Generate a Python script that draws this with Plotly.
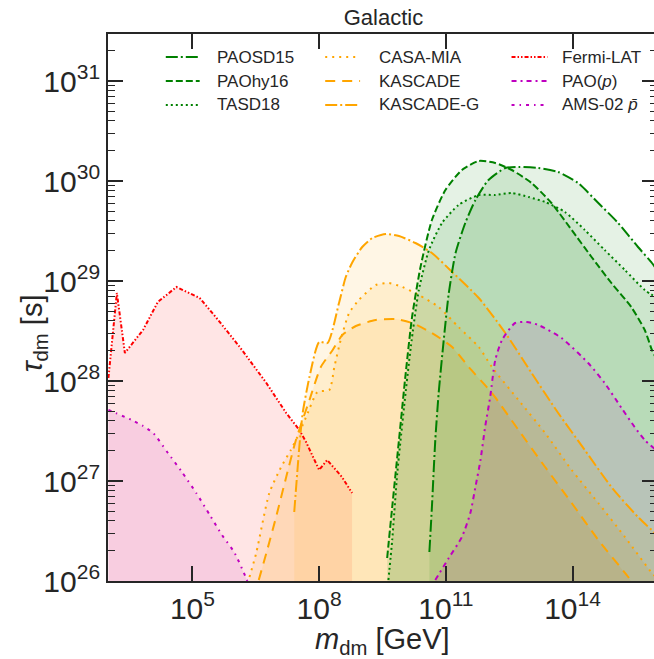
import numpy as np
import plotly.graph_objects as go

# ---- exclusion boundaries: log10(m_dm / GeV) and log10(tau_dm / s) ----
paosd15_lm = [10.61, 10.67, 10.75, 10.83, 10.95, 11.07, 11.23, 11.46, 11.70, 12.01,
              12.41, 12.72, 13.19, 13.66, 14.13, 14.61, 15.08, 15.55, 15.88, 16.0]
paosd15_lt = [26.29, 26.74, 27.41, 27.88, 28.41, 28.88, 29.28, 29.58, 29.81, 30.01,
              30.13, 30.14, 30.13, 30.09, 29.98, 29.78, 29.58, 29.34, 29.18, 29.11]

paohy16_lm = [9.61, 9.73, 9.89, 10.05, 10.20, 10.40, 10.67, 10.99, 11.38, 11.78,
              12.17, 12.56, 13.03, 13.50, 13.98, 14.45, 14.92, 15.39, 15.71, 15.88, 16.0]
paohy16_lt = [26.23, 26.74, 27.41, 28.08, 28.64, 29.14, 29.61, 29.91, 30.11, 30.20,
              30.18, 30.11, 29.98, 29.78, 29.51, 29.24, 28.98, 28.74, 28.51, 28.31, 28.21]

tasd18_lm = [9.64, 9.73, 9.85, 10.01, 10.17, 10.36, 10.60, 10.91, 11.30, 11.78,
             12.17, 12.56, 12.96, 13.35, 13.82, 14.29, 14.76, 15.24, 15.71, 16.0]
tasd18_lt = [26.01, 26.41, 27.08, 27.74, 28.34, 28.91, 29.31, 29.58, 29.76, 29.86,
             29.86, 29.88, 29.84, 29.79, 29.69, 29.51, 29.31, 29.11, 28.91, 28.83]

casamia_lm = [6.35, 6.51, 6.82, 7.10, 7.33, 7.53, 7.73, 7.96, 8.24, 8.36, 8.51, 8.71,
              8.94, 9.34, 9.65, 9.97, 10.36, 10.83, 11.30, 11.78, 12.09, 12.72, 13.35,
              13.98, 14.61, 15.24, 15.88, 16.0]
casamia_lt = [26.04, 26.28, 26.88, 27.14, 27.31, 27.48, 27.68, 27.89, 27.91, 28.14, 28.41, 28.68,
              28.81, 28.96, 28.98, 28.94, 28.86, 28.74, 28.54, 28.34, 28.14, 27.81, 27.48,
              27.11, 26.78, 26.44, 26.08, 26.03]

kascade_lm = [6.57, 6.75, 6.98, 7.22, 7.45, 7.77, 8.04, 8.32, 8.55, 8.87, 9.34, 9.81,
              10.20, 10.67, 11.15, 11.54, 12.09, 12.72, 13.35, 13.98, 14.61, 15.32, 15.38]
kascade_lt = [26.01, 26.28, 26.64, 27.04, 27.41, 27.81, 28.14, 28.31, 28.46, 28.55, 28.61, 28.62,
              28.58, 28.48, 28.34, 28.14, 27.88, 27.51, 27.14, 26.78, 26.41, 26.04, 26.0]

kascadeg_lm = [7.41, 7.53, 7.61, 7.77, 8.00, 8.20, 8.47, 8.63, 8.79, 9.02, 9.26, 9.58,
               9.89, 10.28, 10.67, 11.15, 11.78, 12.41, 13.03, 13.66, 14.29, 14.92, 15.55, 16.0]
kascadeg_lt = [26.69, 27.34, 27.68, 28.04, 28.39, 28.38, 28.78, 29.04, 29.19, 29.34, 29.43, 29.47,
               29.45, 29.38, 29.28, 29.09, 28.83, 28.48, 28.08, 27.68, 27.31, 26.94, 26.64, 26.46]

fermi_lm = [3.01, 3.21, 3.40, 3.83, 4.18, 4.62, 5.17, 5.57, 6.12, 6.43, 6.75, 7.22, 7.53,
            7.69, 7.85, 8.00, 8.19, 8.54, 8.78]
fermi_lt = [28.03, 28.88, 28.28, 28.51, 28.79, 28.94, 28.83, 28.63, 28.34, 28.16, 27.98, 27.68, 27.51,
            27.39, 27.24, 27.11, 27.21, 27.04, 26.88]

paop_lm = [10.75, 11.07, 11.38, 11.58, 11.70, 11.82, 11.93, 12.05, 12.17, 12.33, 12.64,
           12.92, 13.19, 13.74, 14.37, 14.76, 15.16, 15.47, 15.71, 16.0]
paop_lt = [26.01, 26.23, 26.44, 26.68, 26.94, 27.21, 27.54, 27.84, 28.21, 28.41, 28.58,
           28.59, 28.56, 28.43, 28.18, 27.98, 27.73, 27.54, 27.41, 27.30]

ams02_lm = [3.01, 3.56, 3.83, 4.07, 4.42, 4.75, 5.09, 5.41, 5.70, 6.00, 6.27, 6.30]
ams02_lt = [27.71, 27.61, 27.55, 27.48, 27.28, 27.09, 26.88, 26.66, 26.46, 26.28, 26.03, 26.0]

x_tick_exp = [5, 8, 11, 14]
y_tick_exp = [26, 27, 28, 29, 30, 31]

GREEN = "#008000"
ORANGE = "#FFA500"
RED = "#FF0000"
MAGENTA = "#BF00BF"

DASHDOT = "12px,3px,2px,3px"
DASHED = "7px,3px"
DOTTED = "2px,3px"

series = [
    # name, log m, log tau, colour, dash, smooth curve?
    ("Fermi-LAT", fermi_lm, fermi_lt, RED, "4px,2px,1.5px,2px,1.5px,2px", False),
    ("AMS-02 <i>p\u0304</i>", ams02_lm, ams02_lt, MAGENTA, "3px,5px,1.5px,5px", True),
    ("CASA-MIA", casamia_lm, casamia_lt, ORANGE, "2px,5px", True),
    ("KASCADE", kascade_lm, kascade_lt, ORANGE, "10px,7px", True),
    ("KASCADE-G", kascadeg_lm, kascadeg_lt, ORANGE, DASHDOT, True),
    ("PAOSD15", paosd15_lm, paosd15_lt, GREEN, DASHDOT, True),
    ("PAOhy16", paohy16_lm, paohy16_lt, GREEN, DASHED, True),
    ("TASD18", tasd18_lm, tasd18_lt, GREEN, DOTTED, True),
    ("PAO(<i>p</i>)", paop_lm, paop_lt, MAGENTA, "5px,4px,2px,4px", True),
]


def rgba(hex_colour, alpha):
    h = hex_colour.lstrip("#")
    r, g, b = (int(h[i:i + 2], 16) for i in (0, 2, 4))
    return f"rgba({r},{g},{b},{alpha})"


fig = go.Figure()

# shaded excluded regions first, boundaries on top
for name, lm, lt, col, dash, smooth in series:
    m = np.power(10.0, lm)
    t = np.power(10.0, lt)
    fig.add_trace(go.Scatter(
        x=m, y=t, mode="lines", fill="tozeroy",
        fillcolor=rgba(col, 0.1),
        line=dict(width=0, color=col, shape="spline" if smooth else "linear", smoothing=0.6),
        showlegend=False, hoverinfo="skip"))

for name, lm, lt, col, dash, smooth in series:
    m = np.power(10.0, lm)
    t = np.power(10.0, lt)
    fig.add_trace(go.Scatter(
        x=m, y=t, mode="lines", name=name,
        line=dict(width=2, color=col, dash=dash,
                  shape="spline" if smooth else "linear", smoothing=0.6),
        showlegend=False))

# ---- legend drawn as three columns of handles and labels ----
PW, PH, L, T = 551, 547, 108, 34
legend_layout = [
    ["PAOSD15", "PAOhy16", "TASD18"],
    ["CASA-MIA", "KASCADE", "KASCADE-G"],
    ["Fermi-LAT", "PAO(<i>p</i>)", "AMS-02 <i>p\u0304</i>"],
]
style = {s[0]: (s[3], s[4]) for s in series}
col_x = [(166, 200, 215), (326, 361, 378), (513, 549, 562)]
row_y = [57, 81, 105]

shapes = []
annotations = []
for ci, names in enumerate(legend_layout):
    x0, x1, xt = col_x[ci]
    for ri, nm in enumerate(names):
        col, dash = style[nm]
        yp = (T + PH - row_y[ri]) / PH
        shapes.append(dict(type="line", xref="paper", yref="paper",
                           x0=(x0 - L) / PW, x1=(x1 - L) / PW, y0=yp, y1=yp,
                           line=dict(color=col, width=2, dash=dash)))
        annotations.append(dict(text=nm, xref="paper", yref="paper",
                                x=(xt - L) / PW, y=yp, xanchor="left", yanchor="middle",
                                showarrow=False,
                                font=dict(size=17, color="#262626")))

# axis titles
annotations.append(dict(text="<i>m</i><sub>dm</sub> [GeV]", xref="paper", yref="paper",
                        x=0.5, y=(T + PH - 641) / PH, xanchor="center", yanchor="middle",
                        showarrow=False, font=dict(size=29, color="#262626")))
annotations.append(dict(text="<i>τ</i><sub>dm</sub> [s]", xref="paper", yref="paper",
                        x=(34 - L) / PW, y=(T + PH - 333) / PH, xanchor="center",
                        yanchor="middle", textangle=-90, showarrow=False,
                        font=dict(size=29, color="#262626")))

axis_common = dict(
    type="log", showgrid=False, zeroline=False,
    showline=True, linecolor="#262626", linewidth=1.8, mirror="ticks",
    ticks="inside", ticklen=15, tickwidth=1.5, tickcolor="#262626",
    tickfont=dict(size=30, color="#262626", family="Liberation Sans, Arial, sans-serif"),
)

fig.update_xaxes(
    **axis_common, range=[3, 16],
    tickmode="array",
    tickvals=[10.0 ** e for e in x_tick_exp],
    ticktext=[f"10<sup>{e}</sup>" for e in x_tick_exp],
)
fig.update_yaxes(
    **axis_common, range=[26, 31.47],
    tickmode="array",
    tickvals=[10.0 ** e for e in y_tick_exp],
    ticktext=[f"10<sup>{e}</sup>" for e in y_tick_exp],
    minor=dict(tickvals=[k * 10.0 ** e for e in range(26, 32) for k in range(2, 10)],
               ticks="inside", ticklen=7.5, tickwidth=1.2, tickcolor="#262626"),
)

fig.update_layout(
    width=662, height=659,
    margin=dict(l=L, r=3, t=T, b=78),
    paper_bgcolor="white", plot_bgcolor="white",
    font=dict(family="Liberation Sans, Arial, sans-serif", color="#262626"),
    title=dict(text="Galactic", x=(L + PW / 2) / 662, xref="container", xanchor="center",
               y=1 - 17 / 659, yref="container", yanchor="middle",
               font=dict(size=22, color="#262626")),
    shapes=shapes, annotations=annotations,
    showlegend=False,
)

fig.write_html("out.html",
               post_script="document.documentElement.style.overflow='hidden';"
                           "document.body.style.overflow='hidden';")
